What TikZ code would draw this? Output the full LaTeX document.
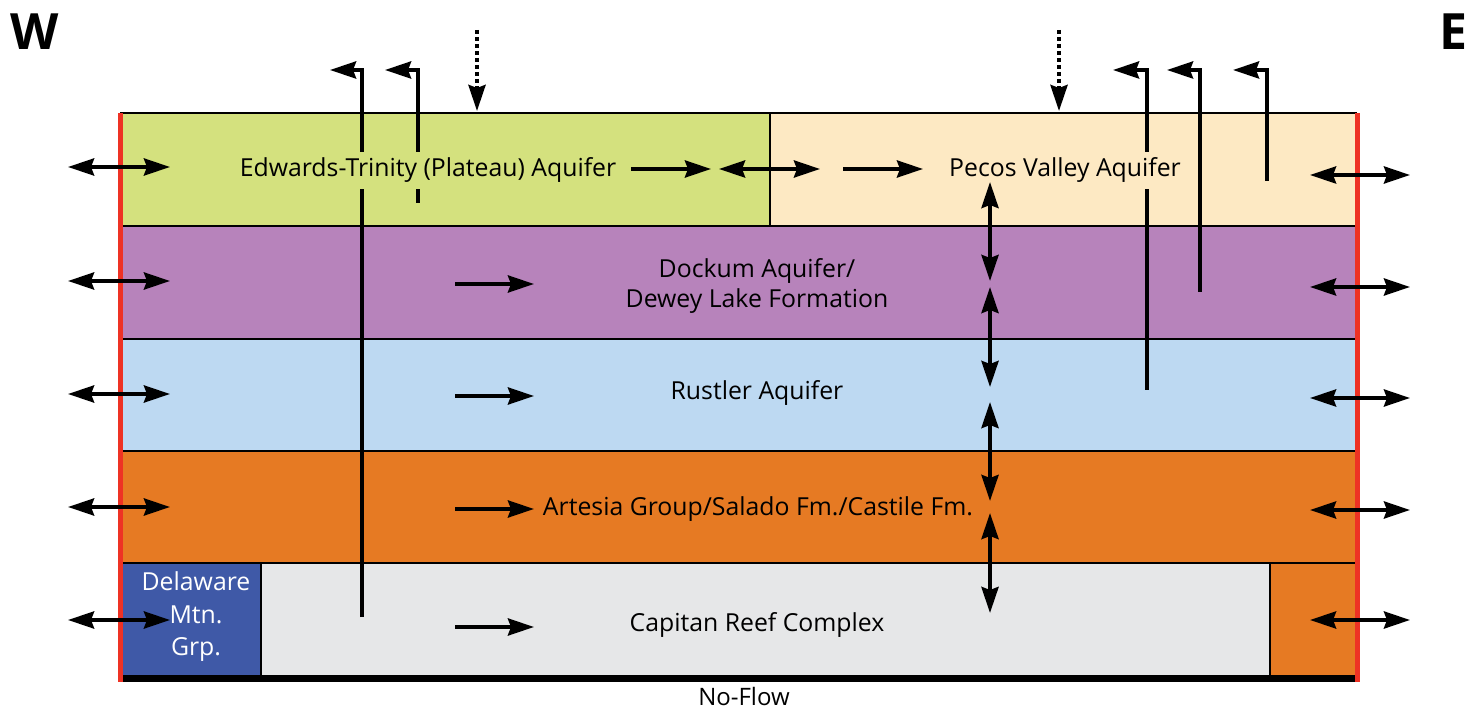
\documentclass[tikz,border=0pt]{standalone}
\usepackage{fontspec}
\setmainfont{Open Sans}
\usetikzlibrary{arrows.meta}
\definecolor{cedw}{HTML}{D4E17E}
\definecolor{cpec}{HTML}{FDE9C3}
\definecolor{cdoc}{HTML}{B783BB}
\definecolor{crus}{HTML}{BDD9F2}
\definecolor{cart}{HTML}{E67A23}
\definecolor{ccap}{HTML}{E6E7E8}
\definecolor{cdel}{HTML}{3F59A7}
\definecolor{cbnd}{HTML}{EE3224}
\begin{document}
\begin{tikzpicture}[x=0.5pt,y=-0.5pt,
  >={Stealth[length=13pt,width=8.5pt,inset=1.5pt]},
  lab/.style={font=\fontsize{12.4pt}{14pt}\selectfont, inner sep=0pt, anchor=base},
  gaplab/.style={lab, inner xsep=2pt, inner ysep=3pt},
  layer/.style={draw=black, line width=1pt},
  flow/.style={line width=2pt, ->},
  xflow/.style={line width=2pt, <->},
  well/.style={line width=2pt, line join=miter, ->},
  recharge/.style={line width=2pt, dash pattern=on 2pt off 1.5pt, ->},
  compass/.style={font=\fontsize{25pt}{30pt}\selectfont\bfseries, inner sep=0pt, anchor=base}]
\useasboundingbox (0,0) rectangle (1470,710);
% layers
\fill[cedw] (120,113) rectangle (770,226);
\fill[cpec] (770,113) rectangle (1357,226);
\fill[cdoc] (120,226) rectangle (1357,339);
\fill[crus] (120,339) rectangle (1357,451);
\fill[cart] (120,451) rectangle (1357,563);
\fill[cdel] (120,563) rectangle (261,676);
\fill[ccap] (261,563) rectangle (1270,676);
\fill[cart] (1270,563) rectangle (1357,676);
\draw[layer] (120,113) -- (1357,113);
\draw[layer] (770,113) -- (770,226);
\draw[layer] (120,226) -- (1357,226);
\draw[layer] (120,339) -- (1357,339);
\draw[layer] (120,451) -- (1357,451);
\draw[layer] (120,563) -- (1357,563);
\draw[layer] (261,563) -- (261,676);
\draw[layer] (1270,563) -- (1270,676);
\draw[line width=3.5pt] (120,678) -- (1357,678);
\draw[cbnd, line width=2.5pt] (120,113) -- (120,682);
\draw[cbnd, line width=2.5pt] (1357,113) -- (1357,682);
% wells
\coordinate (w1b) at (362,617); \coordinate (w1t) at (330,70);
\coordinate (w2b) at (418,203); \coordinate (w2t) at (385,70);
\coordinate (w3b) at (1147,390); \coordinate (w3t) at (1113,70);
\coordinate (w4b) at (1200,292); \coordinate (w4t) at (1167,70);
\coordinate (w5b) at (1267,181); \coordinate (w5t) at (1233,70);
\draw[well] (w1b) |- (w1t);
\draw[well] (w2b) |- (w2t);
\draw[well] (w3b) |- (w3t);
\draw[well] (w4b) |- (w4t);
\draw[well] (w5b) |- (w5t);
% recharge
\coordinate (r1a) at (477,30); \coordinate (r1b) at (477,111);
\coordinate (r2a) at (1059,30); \coordinate (r2b) at (1059,111);
\draw[recharge] (r1a) -- (r1b);
\draw[recharge] (r2a) -- (r2b);
% labels
\node[gaplab, fill=cedw] (edwl) at (428,177) {Edwards-Trinity (Plateau) Aquifer};
\node[gaplab, fill=cpec] (pecl) at (1065,177) {Pecos Valley Aquifer};
\node[lab] (doc1) at (757,278) {Dockum Aquifer/};
\node[lab] (doc2) at (757,308) {Dewey Lake Formation};
\node[lab] (rusl) at (757,400) {Rustler Aquifer};
\node[lab] (artl) at (758,515) {Artesia Group/Salado Fm./Castile Fm.};
\node[lab] (capl) at (757,631) {Capitan Reef Complex};
\node[lab, text=white] (del1) at (196,590) {Delaware};
\node[lab, text=white] (del2) at (196,623) {Mtn.};
\node[lab, text=white] (del3) at (196,655) {Grp.};
\node[lab, font=\fontsize{12pt}{12pt}\selectfont] (nof) at (744,705) {No-Flow};
\node[compass] (W) at (35,50) {W};
\node[compass] (E) at (1453,50) {E};
% lateral boundary flows
\foreach \y [count=\i] in {167,281,394,507,620} {
  \coordinate (la\i) at (68,\y); \coordinate (lb\i) at (170,\y);
  \draw[xflow] (la\i) -- (lb\i);
}
\foreach \y [count=\i] in {175,287,398,510,620} {
  \coordinate (ra\i) at (1310,\y); \coordinate (rb\i) at (1410,\y);
  \draw[xflow] (ra\i) -- (rb\i);
}
% internal flows
\coordinate (f1a) at (631,169); \coordinate (f1b) at (711,169);
\coordinate (f2a) at (719,169); \coordinate (f2b) at (820,169);
\coordinate (f3a) at (843,169); \coordinate (f3b) at (923,169);
\draw[flow] (f1a) -- (f1b);
\draw[xflow] (f2a) -- (f2b);
\draw[flow] (f3a) -- (f3b);
\foreach \y [count=\i] in {284,396,509,627} {
  \coordinate (ga\i) at (455,\y); \coordinate (gb\i) at (534,\y);
  \draw[flow] (ga\i) -- (gb\i);
}
% vertical exchange
\coordinate (v1a) at (990,182); \coordinate (v1b) at (990,281);
\coordinate (v2a) at (990,287); \coordinate (v2b) at (990,387);
\coordinate (v3a) at (990,402); \coordinate (v3b) at (990,501);
\coordinate (v4a) at (990,513); \coordinate (v4b) at (990,613);
\draw[xflow] (v1a) -- (v1b);
\draw[xflow] (v2a) -- (v2b);
\draw[xflow] (v3a) -- (v3b);
\draw[xflow] (v4a) -- (v4b);
\end{tikzpicture}
\end{document}
